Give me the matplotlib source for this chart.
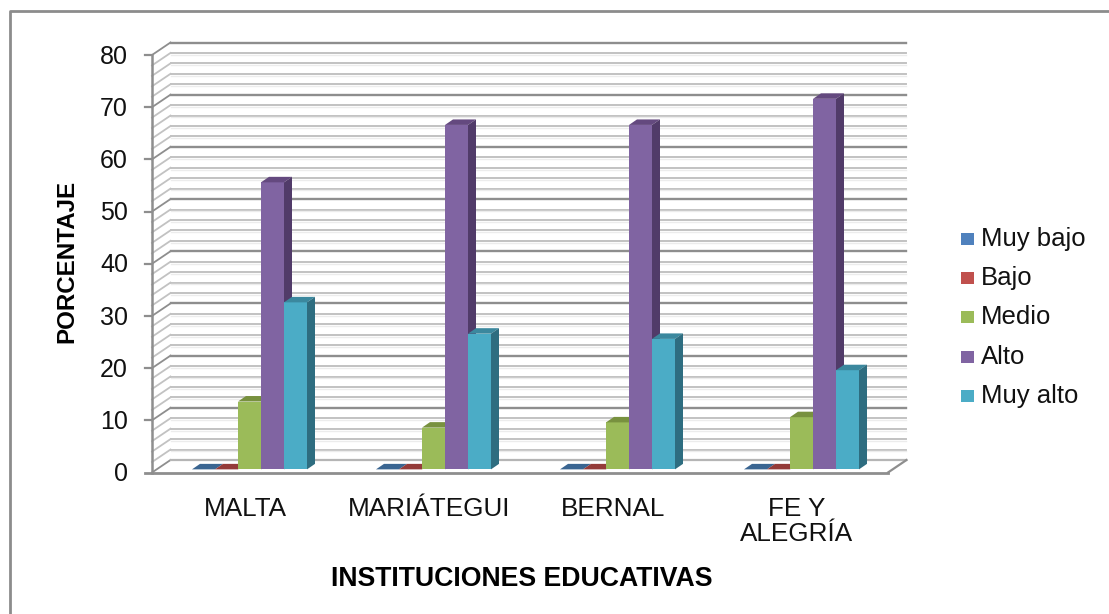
import matplotlib
matplotlib.use('Agg')
import matplotlib.pyplot as plt
from matplotlib.patches import Polygon, Rectangle
from matplotlib.lines import Line2D

plt.rcParams['font.family'] = ['Liberation Sans', 'DejaVu Sans']

instituciones = ['MALTA', 'MARIÁTEGUI', 'BERNAL', 'FE Y\nALEGRÍA']
niveles = ['Muy bajo', 'Bajo', 'Medio', 'Alto', 'Muy alto']
muy_bajo = [0, 0, 0, 0]
bajo = [0, 0, 0, 0]
medio = [13, 8, 9, 10]
alto = [55, 66, 66, 71]
muy_alto = [32, 26, 25, 19]
series = [muy_bajo, bajo, medio, alto, muy_alto]

frente = ['#4f81bd', '#c0504d', '#9bbb59', '#8064a2', '#4bacc6']
arriba = ['#3a6591', '#943b39', '#78913f', '#64497f', '#3b889e']
lado = ['#2f5378', '#7a302e', '#627733', '#513b69', '#2e6d80']

W, H = 1109, 614
fig = plt.figure(figsize=(W / 100, H / 100), dpi=100)
ax = fig.add_axes([152 / W, 1 - 472.5 / H, 736 / W, 417.5 / H])
ax.set_xlim(0, 4)
ax.set_ylim(0, 80)
for s in ax.spines.values():
    s.set_visible(False)
ax.set_xticks([])
ax.set_yticks([])
ax.patch.set_alpha(0)

# borde del grafico (solo arriba e izquierda)
fig.add_artist(Line2D([10 / W, 10 / W, 1], [0, 1 - 10.5 / H, 1 - 10.5 / H], color='#8c8c8c', lw=2))

# profundidad de la caja y de las barras, en unidades de datos
dx, dy = 18.5 / 184, 12.5 / 5.22
bx, by = 8 / 184, 5.5 / 5.22
ancho = 23 / 184
base = 0.6
inicio = 40 / 184

# paredes y rejilla
for v in range(0, 82, 2):
    mayor = v % 10 == 0
    color = '#8e8e8e' if mayor else '#c2c2c2'
    lw = 1.7 if mayor else 1.4
    if v > 0:
        ax.plot([dx, 4 + dx], [v + dy, v + dy], color=color, lw=lw, clip_on=False, zorder=1)
    ax.plot([0, dx], [v, v + dy], color=color, lw=1.3, clip_on=False, zorder=1)
    if not mayor:
        ax.plot([dx, 4 + dx], [v + dy - 0.35, v + dy - 0.35], color='#ececec', lw=1, clip_on=False, zorder=1)
ax.plot([dx, 4 + dx], [dy, dy], color='#b5b5b5', lw=1.6, clip_on=False, zorder=1)
ax.plot([4, 4 + dx], [0, dy], color='#8e8e8e', lw=1.6, clip_on=False, zorder=1)
ax.plot([0, 0], [0, 80], color='#8e8e8e', lw=1.8, clip_on=False, zorder=2)
ax.plot([-7 / 184, 4], [0, 0], color='#8e8e8e', lw=2, clip_on=False, zorder=2)
for v in range(10, 90, 10):
    ax.plot([-7 / 184, 0], [v, v], color='#8e8e8e', lw=1.6, clip_on=False, zorder=2)
for v in range(0, 90, 10):
    ax.text(-24 / 184, v - 0.3, str(v), ha='right', va='center', fontsize=18, color='#111111')

# barras
for g in range(4):
    for i, vals in enumerate(series):
        x0 = g + inicio + i * ancho
        top = base + vals[g]
        ax.bar(x0, vals[g], width=ancho, bottom=base, align='edge', color=frente[i], lw=0, zorder=3 + i)
        ax.add_patch(Polygon([(x0, top), (x0 + bx, top + by), (x0 + ancho + bx, top + by), (x0 + ancho, top)],
                             closed=True, fc=arriba[i], lw=0, zorder=3 + i, clip_on=False))
        ax.add_patch(Polygon([(x0 + ancho, base), (x0 + ancho + bx, base + by), (x0 + ancho + bx, top + by), (x0 + ancho, top)],
                             closed=True, fc=lado[i], lw=0, zorder=3 + i, clip_on=False))
    ax.text(g + 0.5 + 1 / 184, -4.6, instituciones[g], ha='center', va='top', fontsize=18.8, color='#111111', linespacing=1.1)

ax.text(-85 / 184, 40.4, 'PORCENTAJE', rotation=90, ha='center', va='center', fontsize=17.4, fontweight='bold', color='#000000')
ax.text(2 + 1.5 / 184, -20.5, 'INSTITUCIONES EDUCATIVAS', ha='center', va='center', fontsize=19.2, fontweight='bold', color='#000000')

# leyenda
ley_y = [238.5, 278, 317, 356.5, 396]
for nombre, col, yp in zip(niveles, frente, ley_y):
    fig.patches.append(Rectangle((961 / W, 1 - (yp + 6) / H), 13 / W, 12 / H, transform=fig.transFigure, fc=col, lw=0))
    fig.text(981 / W, 1 - (yp + 0.5) / H, nombre, ha='left', va='center', fontsize=18.5, color='#111111')

fig.savefig('out.png', dpi=100)
